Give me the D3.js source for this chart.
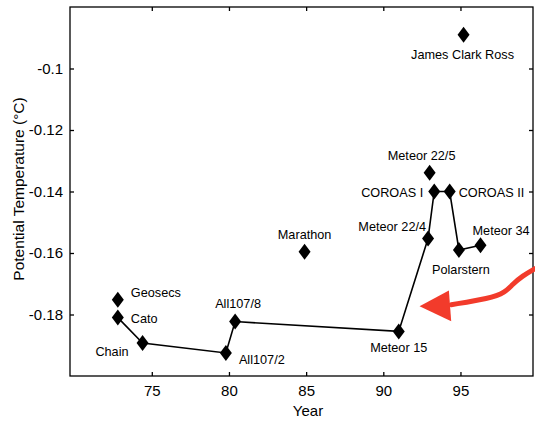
<!DOCTYPE html>
<html><head><meta charset="utf-8">
<script src="https://cdn.jsdelivr.net/npm/d3@7"></script>
<style>body{margin:0;background:#fff}svg{display:block}text{font-family:"Liberation Sans",Arial,Helvetica,sans-serif;fill:#000}</style>
</head><body><svg id="c" width="535" height="421"></svg>
<script>
const names = ["Geosecs","Cato","Chain","All107/2","All107/8","Marathon","Meteor 15","Meteor 22/4","Meteor 22/5","COROAS I","COROAS II","Polarstern","Meteor 34","James Clark Ross"];
const years = [72.8,72.8,74.4,79.8,80.4,84.9,91.0,92.9,93.0,93.3,94.3,94.9,96.3,95.2];
const temps = [-0.1752,-0.1810,-0.1893,-0.1925,-0.1823,-0.1596,-0.1855,-0.1553,-0.1339,-0.1400,-0.1400,-0.1590,-0.1575,-0.0890];
const connected = ["Cato","Chain","All107/2","All107/8","Meteor 15","Meteor 22/4","COROAS I","COROAS II","Polarstern","Meteor 34"];
const xTicks = [75,80,85,90,95];
const yTicks = [-0.1,-0.12,-0.14,-0.16,-0.18];
// label offsets (dx, dy, anchor)
const labelPos = {
 "Geosecs":[13,-7,"start"],"Cato":[13,1,"start"],"Chain":[-14,8,"end"],
 "All107/2":[13,7,"start"],"All107/8":[-20,-18,"start"],"Marathon":[0,-17,"middle"],
 "Meteor 15":[0,16,"middle"],"Meteor 22/4":[-2,-12,"end"],"Meteor 22/5":[-8,-17,"middle"],
 "COROAS I":[-11,1,"end"],"COROAS II":[9,1,"start"],"Polarstern":[2,20,"middle"],
 "Meteor 34":[-8,-15,"start"],"James Clark Ross":[-1,20,"middle"]
};
const arrowX = [99.9,99.0,98.35,97.9,96.9,94.4];
const arrowY = [-0.1649,-0.1675,-0.1703,-0.1728,-0.1748,-0.1768];
const headX = [92.35,94.25,94.4];
const headY = [-0.1773,-0.1722,-0.1822];

const svg = d3.select("#c");
const x = d3.scaleLinear().domain([69.7,99.7]).range([70,533]);
const y = d3.scaleLinear().domain([-0.2,-0.08]).range([376,7]);

svg.append("rect").attr("x",70).attr("y",7).attr("width",463).attr("height",369)
  .attr("fill","none").attr("stroke","#000").attr("stroke-width",1.3);

const gBottom = svg.append("g").attr("transform","translate(0,376)")
  .call(d3.axisBottom(x).tickValues(xTicks).tickSize(-4).tickPadding(9).tickFormat(d3.format("d")));
const gTop = svg.append("g").attr("transform","translate(0,7)")
  .call(d3.axisTop(x).tickValues(xTicks).tickSize(-4).tickFormat(""));
const gLeft = svg.append("g").attr("transform","translate(70,0)")
  .call(d3.axisLeft(y).tickValues(yTicks).tickSize(-4).tickPadding(7).tickFormat(d=>String(d)));
const gRight = svg.append("g").attr("transform","translate(533,0)")
  .call(d3.axisRight(y).tickValues(yTicks).tickSize(-4).tickFormat(""));
[gBottom,gTop,gLeft,gRight].forEach(g=>{g.select(".domain").remove();g.selectAll("line").attr("stroke","#000").attr("stroke-width",1.3);});
gBottom.selectAll("text").attr("font-size",15).style("font-family","Liberation Sans, Arial, sans-serif");
gLeft.selectAll("text").attr("font-size",15).style("font-family","Liberation Sans, Arial, sans-serif");

svg.append("text").attr("x",308).attr("y",416).attr("text-anchor","middle").attr("font-size",15).text("Year");
svg.append("text").attr("transform","translate(24,189) rotate(-90)").attr("text-anchor","middle").attr("font-size",15.5).text("Potential Temperature (°C)");

const pts = names.map((n,i)=>({n,x:years[i],y:temps[i]}));
const byName = Object.fromEntries(pts.map(p=>[p.n,p]));
const line = d3.line().x(d=>x(d.x)).y(d=>y(d.y));
svg.append("path").datum(connected.map(n=>byName[n])).attr("d",line)
  .attr("fill","none").attr("stroke","#000").attr("stroke-width",1.6);

const diamond = "M0,-8L6,0L0,8L-6,0Z";
svg.selectAll(".pt").data(pts).join("path").attr("class","pt")
  .attr("transform",d=>`translate(${x(d.x)},${y(d.y)})`).attr("d",diamond).attr("fill","#000");

svg.selectAll(".lbl").data(pts).join("text").attr("class","lbl")
  .attr("x",d=>x(d.x)+labelPos[d.n][0]).attr("y",d=>y(d.y)+labelPos[d.n][1])
  .attr("dy","0.35em").attr("text-anchor",d=>labelPos[d.n][2]).attr("font-size",12.7).text(d=>d.n);

const arrowPts = arrowX.map((v,i)=>[x(v),y(arrowY[i])]);
svg.append("path").attr("d",d3.line().curve(d3.curveBasis)(arrowPts))
  .attr("fill","none").attr("stroke","#f23b2b").attr("stroke-width",5).attr("stroke-linecap","round");
svg.append("path").attr("d",d3.line()(headX.map((v,i)=>[x(v),y(headY[i])]))+"Z").attr("fill","#f23b2b");
</script></body></html>
